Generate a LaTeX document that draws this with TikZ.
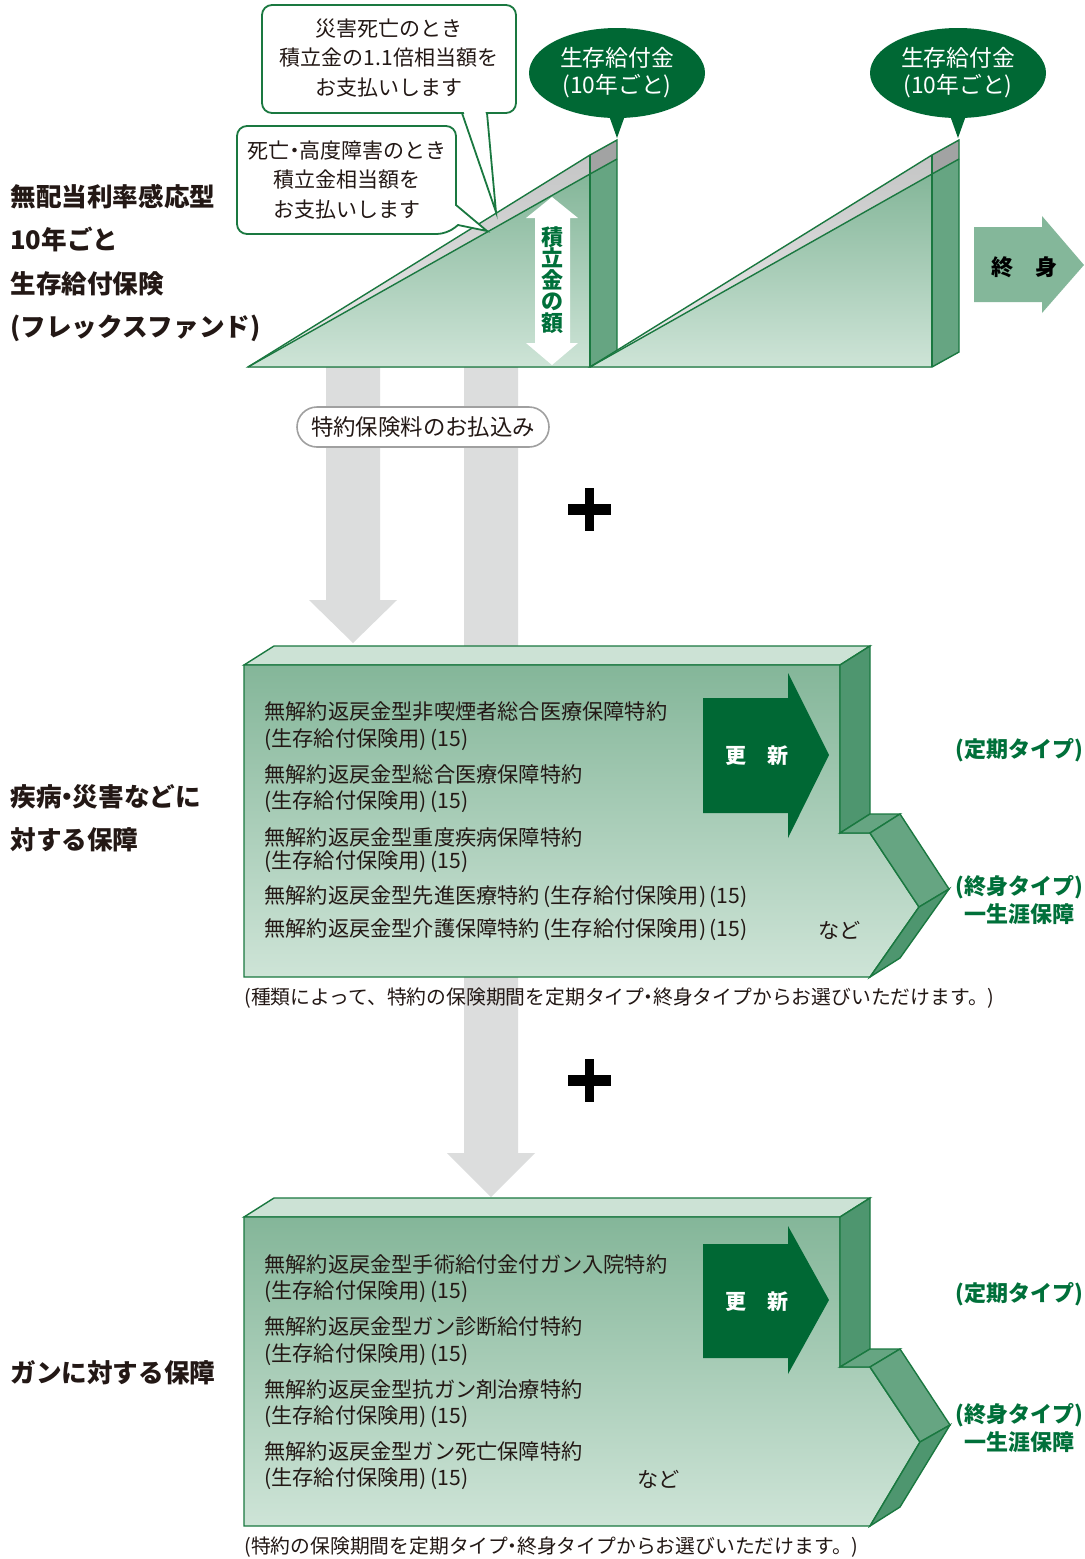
\documentclass[tikz,border=0pt]{standalone}
\usepackage{fontspec}
\setmainfont{Noto Sans CJK JP}
\usetikzlibrary{shapes.geometric}
\definecolor{gline}{RGB}{26,120,64}
\definecolor{gdark}{RGB}{0,104,52}
\definecolor{gtext}{RGB}{0,112,58}
\definecolor{ftop}{RGB}{132,182,153}
\definecolor{fbot}{RGB}{206,228,215}
\definecolor{sidedark}{RGB}{78,150,111}
\definecolor{sidemid}{RGB}{102,165,130}
\definecolor{topface}{RGB}{204,226,213}
\definecolor{arrowgray}{RGB}{220,221,221}
\definecolor{endarrow}{RGB}{132,183,154}
\definecolor{bandtop}{RGB}{196,197,197}
\definecolor{bandbot}{RGB}{236,236,236}
\definecolor{bandside}{RGB}{162,163,163}
\definecolor{pillgray}{RGB}{160,160,160}
\definecolor{txt}{RGB}{35,24,21}
\newcommand\mdot{\kern-.28em・\kern-.28em}
\begin{document}
\begin{tikzpicture}[x=0.5pt,y=-0.5pt,line join=miter]
\tikzset{
 gl/.style={draw=gline,line width=0.7pt},
 bodytxt/.style={anchor=west,inner sep=0pt,text=txt,font=\fontsize{10.6}{12}\selectfont},
 captxt/.style={anchor=west,inner sep=0pt,text=txt,font=\fontsize{9.9}{12}\selectfont},
 titletxt/.style={anchor=west,inner sep=0pt,text=txt,align=left},
 greentxt/.style={inner sep=0pt,text=gtext,align=center,font=\bfseries\fontsize{11}{14}\selectfont},
 renewtxt/.style={inner sep=0pt,text=white,font=\bfseries\fontsize{10.5}{12}\selectfont},
 calltxt/.style={inner sep=0pt,text=txt,align=center,font=\fontsize{10.5}{14.8}\selectfont},
 callbox/.style={draw=gline,line width=0.9pt,fill=white},
 bubble/.style={ellipse,fill=gdark,minimum width=88pt,minimum height=45pt,inner sep=0pt,text=white,align=center,font=\fontsize{11.4}{13.6}\selectfont},
}
\useasboundingbox (0,0) rectangle (1084,1559);
\fill[white] (0,0) rectangle (1084,1559);

% ---------- gray downward arrows ----------
\fill[arrowgray] (326,367) -- (380,367) -- (380,600) -- (397,600) -- (353,643) -- (309,600) -- (326,600) -- cycle;
\fill[arrowgray] (464,367) -- (518,367) -- (518,1153) -- (535,1153) -- (491,1197) -- (447,1153) -- (464,1153) -- cycle;

% ---------- triangles (fund growth) ----------
\foreach \d in {0,342}{
 \fill[top color=ftop,bottom color=fbot] (248+\d,367) -- (590+\d,174) -- (590+\d,367) -- cycle;
 \fill[top color=bandtop,bottom color=bandbot] (248+\d,367) -- (590+\d,155) -- (590+\d,174) -- cycle;
 \fill[bandside] (590+\d,155) -- (617+\d,140) -- (617+\d,159) -- (590+\d,174) -- cycle;
 \fill[sidemid] (590+\d,174) -- (617+\d,159) -- (617+\d,352) -- (590+\d,367) -- cycle;
 \draw[gl] (248+\d,367) -- (590+\d,155) -- (617+\d,140) -- (617+\d,352) -- (590+\d,367) -- cycle;
 \draw[gl] (248+\d,367) -- (590+\d,174) -- (617+\d,159);
 \draw[gl] (590+\d,155) -- (590+\d,367);
}

% white double arrow with label
\fill[white] (552,197) -- (578,218) -- (570,218) -- (570,343) -- (578,343) -- (552,365) -- (526,343) -- (535,343) -- (535,218) -- (526,218) -- cycle;
\node (amount) [inner sep=0pt,text=gtext,align=center,font=\bfseries\fontsize{11}{10.8}\selectfont] at (552,280) {積\\立\\金\\の\\額};

% ---------- callouts ----------
\draw[callbox,rounded corners=5pt] (262,5) rectangle (516,113);
\fill[white] (463.5,111) -- (496,211) -- (485.5,111) -- cycle;
\draw[gl,line width=0.9pt] (462,113) -- (496,212) -- (487,113);
\node (call1) [calltxt] at (389,58) {災害死亡のとき\\積立金の1.1倍相当額を\\お支払いします};

\draw[callbox] (456,205) [rounded corners=5pt] -- (456,126) -- (237,126) -- (237,234) -- (447,234) [sharp corners] -- (458,225) -- (487,231) -- cycle;
\node (call2) [calltxt] at (347,180) {死亡\mdot 高度障害のとき\\積立金相当額を\\お支払いします};

% ---------- green bubbles ----------
\node (bub1) [bubble] at (617,73) {生存給付金\\(10年ごと)};
\fill[gdark] (607,110) -- (627,110) -- (617,138) -- cycle;
\node (bub2) [bubble] at (958,73) {生存給付金\\(10年ごと)};
\fill[gdark] (948,110) -- (968,110) -- (958,138) -- cycle;

% ---------- lifetime arrow ----------
\fill[endarrow] (974,227) -- (1042,227) -- (1042,216) -- (1084,265) -- (1042,313) -- (1042,302) -- (974,302) -- cycle;
\node (life) [inner sep=0pt,text=black,font=\bfseries\fontsize{11}{12}\selectfont] at (1024,267) {終　身};

% ---------- title ----------
\node (title1) [titletxt,font=\bfseries\fontsize{12.8}{21.7}\selectfont] at (10,263) {無配当利率感応型\\10年ごと\\生存給付保険\\(フレックスファンド)};

% ---------- pill ----------
\node (pill) [draw=pillgray,line width=0.8pt,fill=white,rounded corners=10pt,minimum width=126pt,minimum height=20pt,inner sep=0pt,text=txt,font=\fontsize{11.2}{12}\selectfont] at (423,427) {特約保険料のお払込み};

% ---------- plus signs ----------
\fill[black] (568,504) rectangle (611,515);
\fill[black] (585,488) rectangle (594,531);
\fill[black] (568,1075) rectangle (611,1086);
\fill[black] (585,1059) rectangle (594,1102);

% ---------- box 2 (disease) ----------
\draw[gl,fill=topface] (244,665) -- (274,646) -- (870,646) -- (840,665) -- cycle;
\draw[gl,top color=ftop,bottom color=fbot] (244,665) -- (840,665) -- (840,833) -- (870,833) -- (919,907) -- (870,977) -- (244,977) -- cycle;
\draw[gl,fill=sidedark] (840,665) -- (870,646) -- (870,814) -- (840,833) -- cycle;
\draw[gl,fill=sidemid] (840,833) -- (870,814) -- (900,814) -- (870,833) -- cycle;
\draw[gl,fill=sidemid] (870,833) -- (900,814) -- (949,889) -- (919,907) -- cycle;
\draw[gl,fill=sidedark] (919,907) -- (949,889) -- (900,958) -- (870,977) -- cycle;
\fill[gdark] (703,698) -- (788,698) -- (788,673) -- (829,755) -- (788,838) -- (788,813) -- (703,813) -- cycle;
\node (renew1) [renewtxt] at (757,756) {更　新};

\node (b2l1) [bodytxt] at (264,712) {無解約返戻金型非喫煙者総合医療保障特約};
\node (b2l2) [bodytxt] at (264,740) {(生存給付保険用)\,(15)};
\node (b2l3) [bodytxt] at (264,774) {無解約返戻金型総合医療保障特約};
\node (b2l4) [bodytxt] at (264,802) {(生存給付保険用)\,(15)};
\node (b2l5) [bodytxt] at (264,837) {無解約返戻金型重度疾病保障特約};
\node (b2l6) [bodytxt] at (264,862) {(生存給付保険用)\,(15)};
\node (b2l7) [bodytxt] at (264,897) {無解約返戻金型先進医療特約\,(生存給付保険用)\,(15)};
\node (b2l8) [bodytxt] at (264,930) {無解約返戻金型介護保障特約\,(生存給付保険用)\,(15)};
\node (b2etc) [bodytxt] at (818,930) {など};

\node (b2term) [greentxt] at (1019,750) {(定期タイプ)};
\node (b2whole) [greentxt] at (1019,900) {(終身タイプ)\\一生涯保障};
\node (b2cap) [captxt] at (244,998) {(種類によって、特約の保険期間を定期タイプ\mdot 終身タイプからお選びいただけます。)};
\node (title2) [titletxt,font=\bfseries\fontsize{12.8}{21.5}\selectfont] at (10,818.5) {疾病\mdot 災害などに\\対する保障};

% ---------- box 3 (cancer) ----------
\draw[gl,fill=topface] (244,1217) -- (274,1198) -- (870,1198) -- (840,1217) -- cycle;
\draw[gl,top color=ftop,bottom color=fbot] (244,1217) -- (840,1217) -- (840,1367) -- (870,1367) -- (920,1442) -- (870,1526) -- (244,1526) -- cycle;
\draw[gl,fill=sidedark] (840,1217) -- (870,1198) -- (870,1349) -- (840,1367) -- cycle;
\draw[gl,fill=sidemid] (840,1367) -- (870,1349) -- (900,1349) -- (870,1367) -- cycle;
\draw[gl,fill=sidemid] (870,1367) -- (900,1349) -- (950,1425) -- (920,1442) -- cycle;
\draw[gl,fill=sidedark] (920,1442) -- (950,1425) -- (900,1507) -- (870,1526) -- cycle;
\fill[gdark] (703,1244) -- (788,1244) -- (788,1226) -- (829,1300) -- (788,1374) -- (788,1358) -- (703,1358) -- cycle;
\node (renew2) [renewtxt] at (757,1302) {更　新};

\node (b3l1) [bodytxt] at (264,1264) {無解約返戻金型手術給付金付ガン入院特約};
\node (b3l2) [bodytxt] at (264,1292) {(生存給付保険用)\,(15)};
\node (b3l3) [bodytxt] at (264,1327) {無解約返戻金型ガン診断給付特約};
\node (b3l4) [bodytxt] at (264,1355) {(生存給付保険用)\,(15)};
\node (b3l5) [bodytxt] at (264,1389) {無解約返戻金型抗ガン剤治療特約};
\node (b3l6) [bodytxt] at (264,1417) {(生存給付保険用)\,(15)};
\node (b3l7) [bodytxt] at (264,1451) {無解約返戻金型ガン死亡保障特約};
\node (b3l8) [bodytxt] at (264,1479) {(生存給付保険用)\,(15)};
\node (b3etc) [bodytxt] at (637,1479) {など};

\node (b3term) [greentxt] at (1019,1294) {(定期タイプ)};
\node (b3whole) [greentxt] at (1019,1428) {(終身タイプ)\\一生涯保障};
\node (b3cap) [captxt] at (244,1547) {(特約の保険期間を定期タイプ\mdot 終身タイプからお選びいただけます。)};
\node (title3) [titletxt,font=\bfseries\fontsize{12.8}{15}\selectfont] at (10,1373) {ガンに対する保障};
\end{tikzpicture}
\end{document}
